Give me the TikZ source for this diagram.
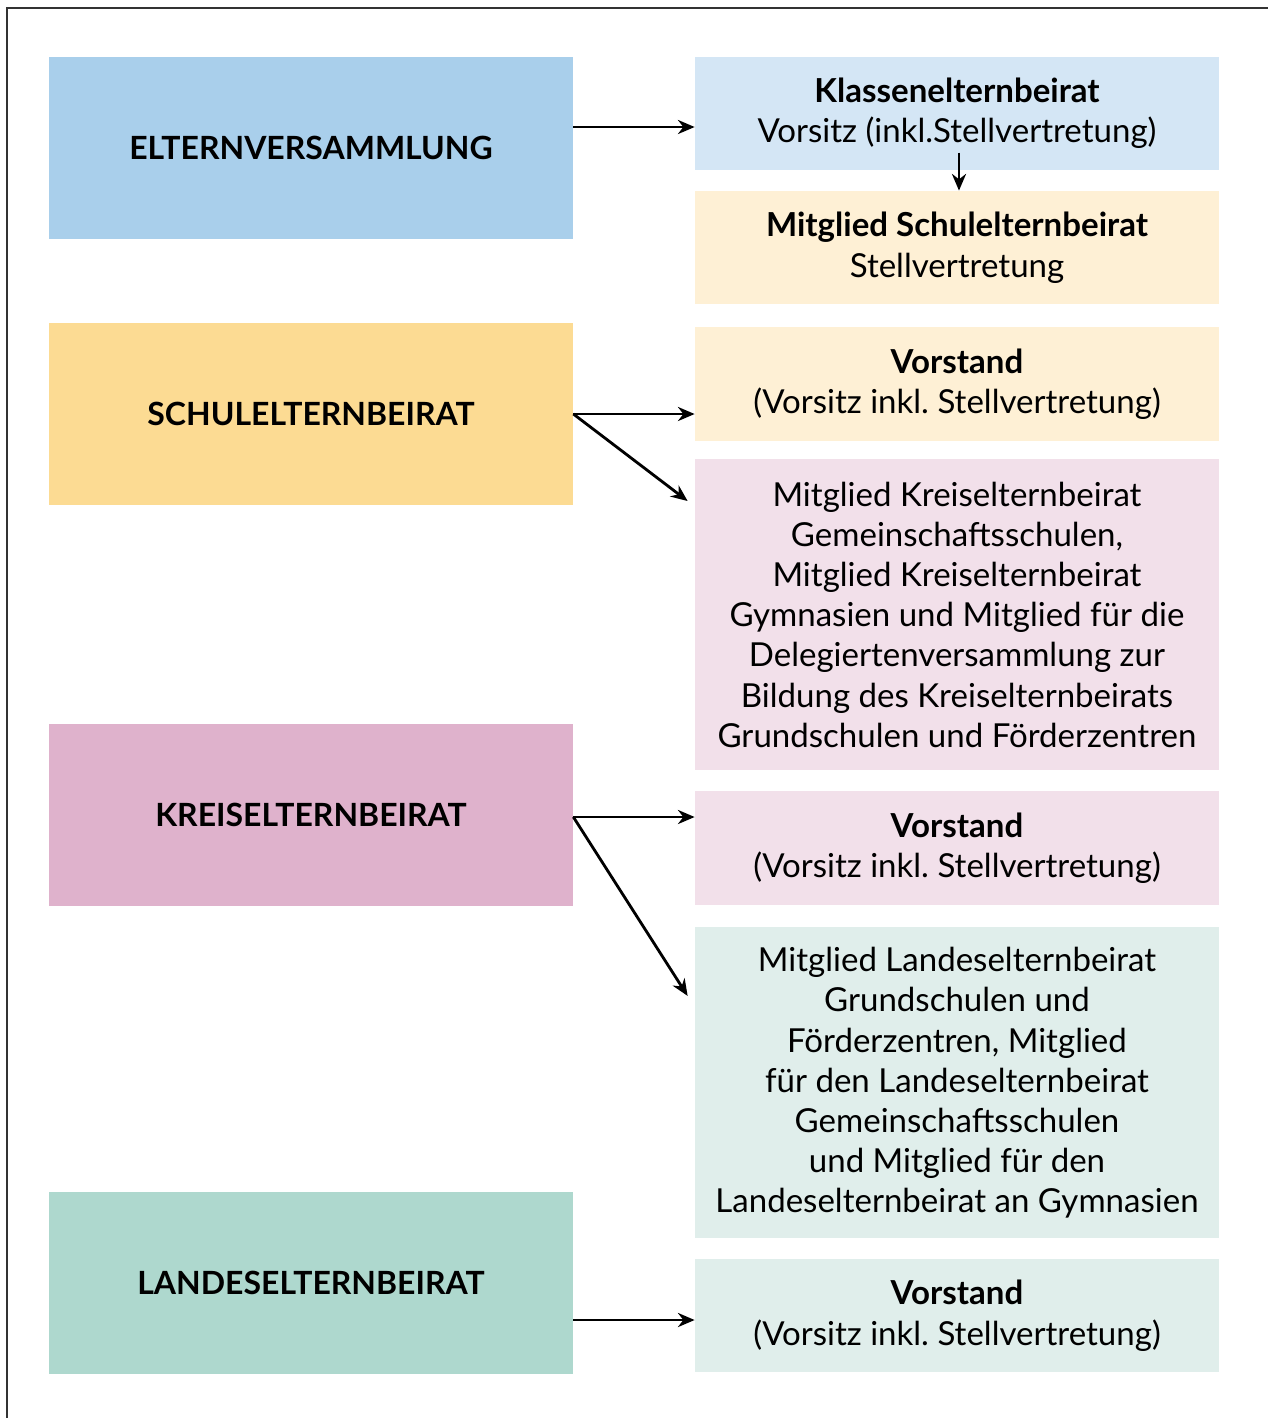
\documentclass[tikz,border=0pt]{standalone}
\usepackage{fontspec}
\setmainfont{Lato}
\usetikzlibrary{arrows.meta,positioning}
\frenchspacing

\definecolor{eltblue}{HTML}{A9CFEB}
\definecolor{eltbluelight}{HTML}{D4E6F5}
\definecolor{schulyellow}{HTML}{FCDB93}
\definecolor{schulyellowlight}{HTML}{FEF0D5}
\definecolor{kreispink}{HTML}{DFB2CC}
\definecolor{kreispinklight}{HTML}{F2E0EA}
\definecolor{landgreen}{HTML}{AED8CE}
\definecolor{landgreenlight}{HTML}{E0EEEB}

\begin{document}
\begin{tikzpicture}[
  node distance=0.44cm,
  >={Stealth[length=9.5pt,width=8pt]},
  level/.style={
    rectangle,
    fill=#1,
    align=center,
    minimum width=10.48cm,
    minimum height=3.64cm,
    font=\fontsize{18.2}{22.8}\selectfont\bfseries
  },
  office/.style={
    rectangle,
    fill=#1,
    align=center,
    minimum width=10.48cm,
    minimum height=2.27cm,
    font=\fontsize{18.8}{22.8}\selectfont
  },
  delegate/.style={
    office=#1,
    minimum height=6.22cm
  },
  link/.style={->, line width=1.6pt}
]

\useasboundingbox (0,0) rectangle (25.36,-28.36);
\draw[line width=0.9pt, black!80] (0.14,-28.36) -- (0.14,-0.16) -- (25.36,-0.16);

% left column
\node[level=eltblue] (elt) at (6.22,-2.96) {ELTERNVERSAMMLUNG};
\node[level=schulyellow] (schul) at (6.22,-8.28) {SCHULELTERNBEIRAT};
\node[level=kreispink] (kreis) at (6.22,-16.30) {KREISELTERNBEIRAT};
\node[level=landgreen] (landes) at (6.22,-25.66) {LANDESELTERNBEIRAT};

% right column
\node[office=eltbluelight] (klasse) at (19.14,-2.27) {\textbf{Klassenelternbeirat}\\
Vorsitz (inkl.Stellvertretung)};

\node[office=schulyellowlight, below=0.4cm of klasse] (mitschul) {\textbf{Mitglied Schulelternbeirat}\\
Stellvertretung};

\node[office=schulyellowlight, below=of mitschul] (vorschul) {\textbf{Vorstand}\\
(Vorsitz inkl. Stellvertretung)};

\node[delegate=kreispinklight, below=0.36cm of vorschul] (mitkreis) {Mitglied Kreiselternbeirat\\
Gemeinschaftsschulen,\\
Mitglied Kreiselternbeirat\\
Gymnasien und Mitglied für die\\
Delegiertenversammlung zur\\
Bildung des Kreiselternbeirats\\
Grundschulen und Förderzentren};

\node[office=kreispinklight, below=0.4cm of mitkreis] (vorkreis) {\textbf{Vorstand}\\
(Vorsitz inkl. Stellvertretung)};

\node[delegate=landgreenlight, below=0.44cm of vorkreis] (mitland) {Mitglied Landeselternbeirat\\
Grundschulen und\\
Förderzentren, Mitglied\\
für den Landeselternbeirat\\
Gemeinschaftsschulen\\
und Mitglied für den\\
Landeselternbeirat an Gymnasien};

\node[office=landgreenlight, below=0.4cm of mitland] (vorland) {\textbf{Vorstand}\\
(Vorsitz inkl. Stellvertretung)};

% Arrows
\draw[link] ([yshift=0.42cm]elt.east) -- ([yshift=0.42cm]elt.east -| klasse.west);
\draw[link] ([xshift=0.04cm,yshift=0.36cm]klasse.south) -- ([xshift=0.04cm]mitschul.north);
\draw[link] (schul.east) -- (schul.east -| vorschul.west);
\draw[link] (schul.east) -- ([xshift=-0.14cm,yshift=-0.84cm]mitkreis.north west);
\draw[link] ([yshift=-0.04cm]kreis.east) -- ([yshift=-0.04cm]kreis.east -| vorkreis.west);
\draw[link] ([yshift=-0.04cm]kreis.east) -- ([xshift=-0.14cm,yshift=-1.38cm]mitland.north west);
\draw[link] ([yshift=-0.74cm]landes.east) -- ([yshift=-0.74cm]landes.east -| vorland.west);

\end{tikzpicture}
\end{document}
